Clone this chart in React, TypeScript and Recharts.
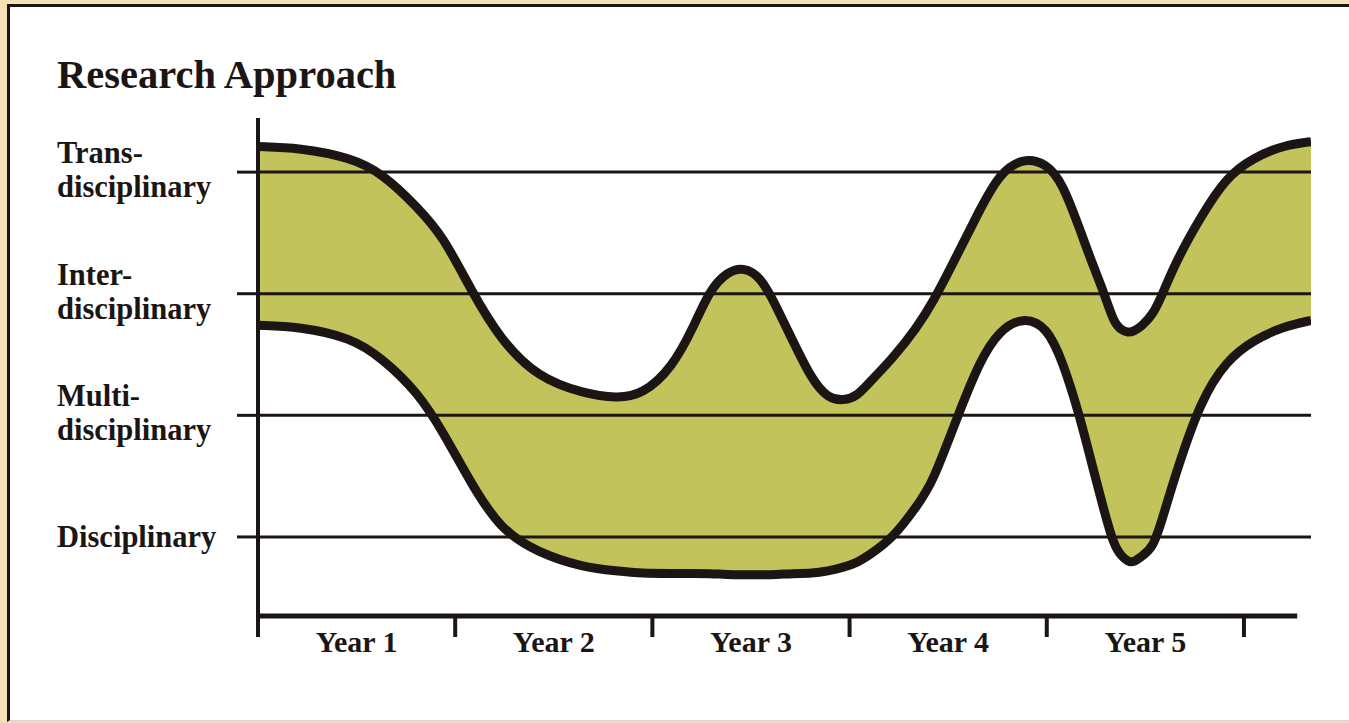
import React from "react";
import {
  ComposedChart,
  Area,
  Line,
  XAxis,
  YAxis,
  ReferenceLine,
} from "recharts";

// position along the timeline, in years from the start
const timeline = [
  0, 0.21, 0.47, 0.63, 0.81, 0.94, 1.08, 1.23, 1.42, 1.65, 1.82, 1.95, 2.1, 2.21, 2.29,
  2.38, 2.46, 2.55, 2.63, 2.71, 2.81, 2.89, 2.97, 3.04, 3.1, 3.22, 3.34, 3.42, 3.54,
  3.66, 3.76, 3.88, 4.0, 4.08, 4.17, 4.23, 4.29, 4.34, 4.38, 4.41, 4.44, 4.48, 4.54,
  4.59, 4.66, 4.78, 4.91, 5.05, 5.2, 5.34,
];

// 1 = Disciplinary ... 4 = Trans-disciplinary
const upperBound = [
  4.21, 4.2, 4.12, 3.99, 3.71, 3.47, 3.03, 2.62, 2.31, 2.18, 2.14, 2.17, 2.39, 2.73, 3.03,
  3.18, 3.22, 3.14, 2.89, 2.62, 2.29, 2.14, 2.12, 2.16, 2.27, 2.47, 2.72, 2.92, 3.3,
  3.69, 3.99, 4.12, 4.07, 3.91, 3.52, 3.25, 3.01, 2.76, 2.7, 2.68, 2.69, 2.73, 2.83,
  3.01, 3.28, 3.63, 3.96, 4.12, 4.22, 4.25,
];

const lowerBound = [
  2.74, 2.73, 2.64, 2.47, 2.19, 1.86, 1.44, 1.06, 0.87, 0.75, 0.72, 0.7, 0.7, 0.7, 0.7,
  0.69, 0.69, 0.69, 0.69, 0.7, 0.7, 0.72, 0.75, 0.79, 0.85, 0.99, 1.25, 1.44, 1.96,
  2.45, 2.7, 2.81, 2.73, 2.45, 1.98, 1.59, 1.22, 0.93, 0.84, 0.8, 0.79, 0.84, 0.91,
  1.17, 1.55, 2.12, 2.45, 2.62, 2.73, 2.78,
];

const levels = [1, 2, 3, 4];
const levelLabels = [
  ["Disciplinary"],
  ["Multi-", "disciplinary"],
  ["Inter-", "disciplinary"],
  ["Trans-", "disciplinary"],
];

const yearLabels = ["Year 1", "Year 2", "Year 3", "Year 4", "Year 5"];
const xTicks = [0, 0.5, 1, 1.5, 2, 2.5, 3, 3.5, 4, 4.5, 5];

const data = timeline.map((t, i) => ({
  t,
  high: upperBound[i],
  low: lowerBound[i],
}));

const FONT = "'Liberation Serif', 'Times New Roman', serif";
const INK = "#1b1613";

const YTick = (props: any) => {
  const { y, payload } = props;
  const lines = levelLabels[levels.indexOf(payload.value)] || [];
  return (
    <text
      x={57}
      y={lines.length > 1 ? y - 9 : y + 10}
      fontFamily={FONT}
      fontWeight="bold"
      fontSize={30.5}
      fill={INK}
    >
      {lines.map((l, i) => (
        <tspan key={i} x={57} dy={i === 0 ? 0 : 34}>
          {l}
        </tspan>
      ))}
    </text>
  );
};

const XTick = (props: any) => {
  const { x, y, payload } = props;
  const v = payload.value;
  if (Number.isInteger(v)) {
    return <line x1={x} x2={x} y1={y} y2={y + 21} stroke={INK} strokeWidth={4} />;
  }
  return (
    <text
      x={x}
      y={y + 36}
      textAnchor="middle"
      fontFamily={FONT}
      fontWeight="bold"
      fontSize={30}
      fill={INK}
    >
      {yearLabels[Math.floor(v)]}
    </text>
  );
};

export default function App() {
  return (
    <div
      style={{
        position: "absolute",
        left: 0,
        top: 0,
        width: 1349,
        height: 723,
        overflow: "hidden",
        background: "#F7DFB6",
      }}
    >
      <div
        style={{
          position: "absolute",
          left: 7,
          top: 4,
          width: 1400,
          height: 713,
          background: "#fff",
          borderLeft: `3px solid ${INK}`,
          borderTop: `3px solid ${INK}`,
          borderBottom: "2px solid #d8d8d8",
        }}
      />
      <div
        style={{
          position: "absolute",
          left: 57,
          top: 55,
          fontFamily: FONT,
          fontWeight: "bold",
          fontSize: 40.5,
          lineHeight: "39px",
          color: INK,
          whiteSpace: "nowrap",
        }}
      >
        Research Approach
      </div>
      <div style={{ position: "absolute", left: 0, top: 0 }}>
        <ComposedChart
          width={1349}
          height={723}
          data={data}
          margin={{ top: 118, right: 38, bottom: 0, left: 0 }}
        >
          <XAxis
            dataKey="t"
            type="number"
            domain={[0, 5.34]}
            ticks={xTicks}
            allowDataOverflow
            axisLine={false}
            tickLine={false}
            tickSize={0}
            tickMargin={0}
            height={107}
            tick={<XTick />}
            interval={0}
          />
          <YAxis
            type="number"
            domain={[0.35, 4.445]}
            ticks={levels}
            allowDataOverflow
            width={258}
            axisLine={{ stroke: INK, strokeWidth: 4 }}
            tickLine={{ stroke: INK, strokeWidth: 3 }}
            tickSize={21}
            tick={<YTick />}
            interval={0}
          />
          <Area
            dataKey={(d: any) => [d.low, d.high]}
            type="basis"
            stroke="none"
            fill="#C2C35A"
            fillOpacity={1}
            isAnimationActive={false}
          />
          {levels.map((lv) => (
            <ReferenceLine key={lv} y={lv} stroke={INK} strokeWidth={3} />
          ))}
          <ReferenceLine
            segment={[
              { x: 0, y: 0.35 },
              { x: 5.27, y: 0.35 },
            ]}
            stroke={INK}
            strokeWidth={5}
          />
          <Line
            dataKey="high"
            type="basis"
            stroke={INK}
            strokeWidth={9}
            dot={false}
            strokeLinejoin="round"
            isAnimationActive={false}
          />
          <Line
            dataKey="low"
            type="basis"
            stroke={INK}
            strokeWidth={9}
            dot={false}
            strokeLinejoin="round"
            isAnimationActive={false}
          />
        </ComposedChart>
      </div>
    </div>
  );
}
